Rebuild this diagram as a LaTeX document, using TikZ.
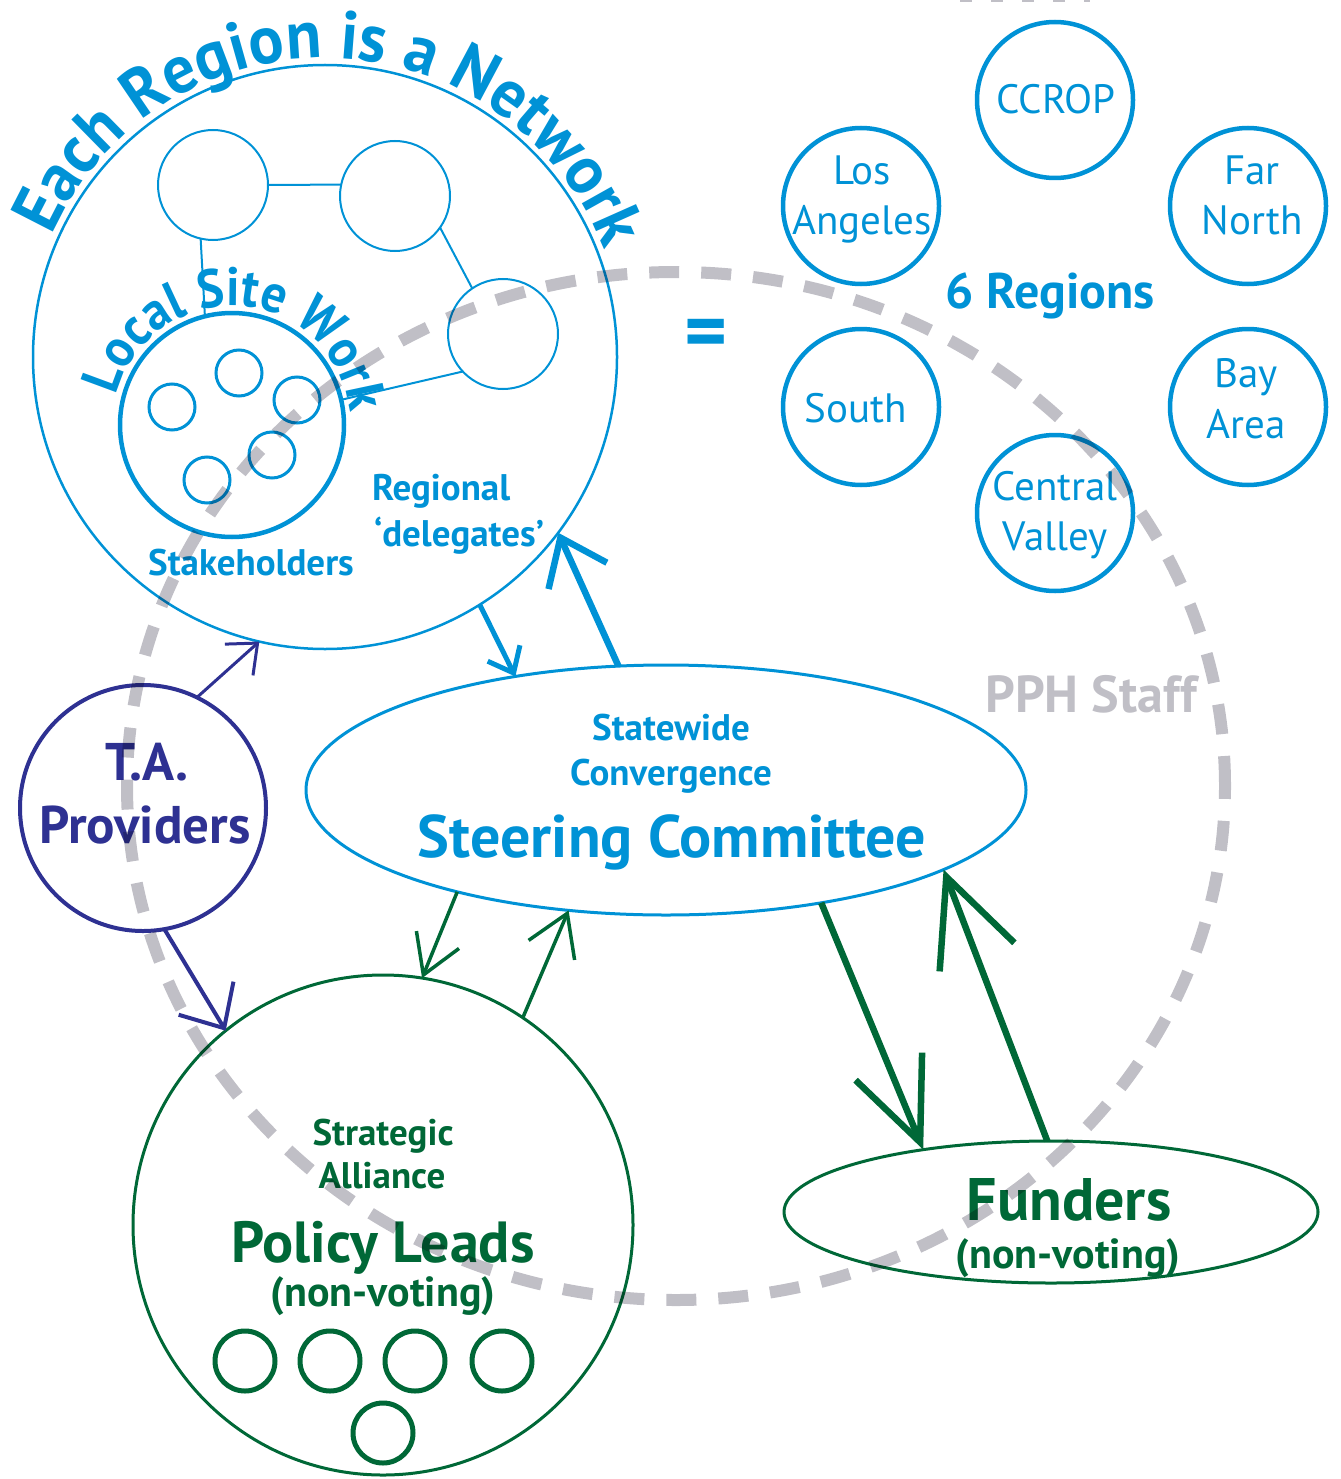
\documentclass[tikz,border=0pt]{standalone}
\usepackage{fontspec}
\setmainfont{PT Sans}
\newfontfamily\condbold{PT Sans Bold}[FakeStretch=0.92]
\newfontfamily\titlebold{PT Sans Bold}[FakeStretch=0.96]
\usetikzlibrary{arrows.meta,shapes.geometric,decorations.text}
\definecolor{rblue}{RGB}{0,146,214}
\definecolor{tapurple}{RGB}{46,49,146}
\definecolor{pgreen}{RGB}{0,104,55}
\definecolor{pphgray}{RGB}{192,191,198}
\newcommand{\fsz}[1]{\fontsize{#1}{#1}\selectfont}
\begin{document}
\begin{tikzpicture}[x=1pt,y=1pt,
  ring/.style={circle, draw, inner sep=0pt, outer sep=0pt},
  oval/.style={ellipse, draw, inner sep=0pt, outer sep=0pt},
  txt/.style={inner sep=0pt, outer sep=0pt, anchor=base},
  regc/.style={ring, draw=rblue, line width=4.5pt, minimum size=156pt},
  regtxt/.style={txt, text=rblue, font=\fsz{41}},
  stakec/.style={ring, draw=rblue, line width=3pt, minimum size=46pt},
  netc/.style={ring, draw=rblue, line width=2pt, minimum size=110pt},
  leadc/.style={ring, draw=pgreen, line width=5pt, minimum size=60pt},
  pphdash/.style={draw=pphgray, line width=12pt, dash pattern=on 30pt off 22pt},
  barb/.style 2 args={-{Straight Barb[length=#1pt, width=#2pt]}}
]
\useasboundingbox (0,0) rectangle (1340,-1479);

% ---- region network
\node[ring, draw=rblue, line width=2.5pt, minimum size=584pt] (region) at (325,-357) {};
\node[netc] (netA) at (213,-185) {};
\node[netc] (netB) at (395,-196) {};
\node[netc] (netC) at (503,-334) {};
\node[ring, draw=rblue, line width=4.5pt, minimum size=224pt] (local) at (232,-425) {};
\node[stakec] (s1) at (172,-407) {};
\node[stakec] (s2) at (239,-373) {};
\node[stakec] (s3) at (297,-400) {};
\node[stakec] (s4) at (272,-455) {};
\node[stakec] (s5) at (207,-480) {};
\draw[rblue, line width=2pt] (netA.east) -- (netB.168);
\draw[rblue, line width=2pt] (netB.-35) -- (netC.124.5);
\draw[rblue, line width=2pt] (netA.-103) -- (local.104);
\draw[rblue, line width=2pt] (netC.223) -- (local.13);

\path[decorate, decoration={text along path, text align=center,
  text={|\fsz{68}\titlebold\color{rblue}|Each Region is a Network}}]
  (325,-357) ++(168.5:299) arc[start angle=168.5, end angle=8.5, radius=299];
\path[decorate, decoration={text along path, text align=center,
  text={|\fsz{54}\condbold\color{rblue}|Local Site Work}}]
  (232,-425) ++(162:119) arc[start angle=162, end angle=10, radius=119];

\node[txt, text=rblue, font=\fsz{37}\bfseries] (stk) at (251,-575) {Stakeholders};
\node[txt, anchor=base west, text=rblue, font=\fsz{37}\bfseries] (reg1) at (372,-500) {Regional};
\node[txt, anchor=base west, text=rblue, font=\fsz{37}\bfseries] (reg2) at (374,-546) {‘delegates’};

\node[txt, text=rblue, font=\fsz{82}\bfseries] (eq) at (706,-359) {=};

% ---- six regions
\node[regc] (ccrop) at (1055,-100) {};
\node[regc] (la) at (861,-206) {};
\node[regc] (far) at (1248,-206) {};
\node[regc] (south) at (861,-407) {};
\node[regc] (bay) at (1248,-407) {};
\node[regc] (cv) at (1055,-513) {};
\node[regtxt] (t1) at (1056,-114) {CCROP};
\node[regtxt] (t2) at (862,-185) {Los};
\node[regtxt] (t3) at (862,-235) {Angeles};
\node[regtxt] (t4) at (1252,-185) {Far};
\node[regtxt] (t5) at (1252,-235) {North};
\node[regtxt] (t6) at (856,-422) {South};
\node[regtxt] (t7) at (1246,-387) {Bay};
\node[regtxt] (t8) at (1246,-438) {Area};
\node[regtxt] (t9) at (1055,-500) {Central};
\node[regtxt] (t10) at (1055,-550) {Valley};
\node[txt, text=rblue, font=\fsz{50}\bfseries] (six) at (1050,-308) {6 Regions};

% ---- other bodies
\node[oval, draw=rblue, line width=3pt, minimum width=720pt, minimum height=250pt] (steer) at (666,-790) {};
\node[txt, text=rblue, font=\fsz{37}\bfseries] (sw) at (671,-740) {Statewide};
\node[txt, text=rblue, font=\fsz{37}\bfseries] (cvg) at (671,-785) {Convergence};
\node[txt, text=rblue, font=\fsz{60}\bfseries] (sc) at (672,-857) {Steering Committee};

\node[ring, draw=tapurple, line width=4pt, minimum size=246pt] (ta) at (143,-808) {};
\node[txt, text=tapurple, font=\fsz{53}\bfseries] (ta1) at (147,-780) {T.A.};
\node[txt, text=tapurple, font=\fsz{53}\bfseries] (ta2) at (145,-843) {Providers};

\node[ring, draw=pgreen, line width=3pt, minimum size=500pt] (policy) at (383,-1225) {};
\node[txt, text=pgreen, font=\fsz{37}\bfseries] (pl1) at (383,-1145) {Strategic};
\node[txt, text=pgreen, font=\fsz{37}\bfseries] (pl2) at (382,-1188) {Alliance};
\node[txt, text=pgreen, font=\fsz{58}\bfseries] (pl3) at (383,-1262) {Policy Leads};
\node[txt, text=pgreen, font=\fsz{42}\bfseries] (pl4) at (383,-1306) {(non-voting)};
\node[leadc] (l1) at (245,-1361) {};
\node[leadc] (l2) at (330,-1361) {};
\node[leadc] (l3) at (415,-1361) {};
\node[leadc] (l4) at (502,-1361) {};
\node[leadc] (l5) at (383,-1433) {};

\node[oval, draw=pgreen, line width=3pt, minimum width=534pt, minimum height=142pt] (fund) at (1051,-1212) {};
\node[txt, text=pgreen, font=\fsz{60}\bfseries] (f1) at (1069,-1220) {Funders};
\node[txt, text=pgreen, font=\fsz{42}\bfseries] (f2) at (1068,-1268) {(non-voting)};

\node[txt, text=pphgray, font=\fsz{52}\bfseries] (pph) at (1091,-712) {PPH Staff};

% ---- connectors
\draw[rblue, line width=5pt, barb={22}{36}] (region.-58.5) -- (steer.143.5);
\draw[rblue, line width=6.5pt, barb={42}{64}] (steer.111) -- (region.-37.8);
\draw[tapurple, line width=3pt, barb={25}{42}] (ta.64) -- (region.257.2);
\draw[tapurple, line width=4pt, barb={35}{64}] (ta.-80.7) -- (policy.129.5);
\draw[pgreen, line width=3.5pt, barb={38}{46}] (steer.206) -- (policy.81);
\draw[pgreen, line width=3.5pt, barb={40}{50}] (policy.56.6) -- (steer.231.5);
\draw[pgreen, line width=6.5pt, barb={82}{72}] (steer.-36.7) -- (fund.154);
\draw[pgreen, line width=6.5pt, barb={86}{80}] (fund.93) -- (steer.-16.6);

% ---- PPH staff dashed ring
\begin{scope}[blend mode=multiply]
\draw[pphdash] (676,-786) ellipse [x radius=549, y radius=514];
\draw[draw=pphgray, line width=4pt, dash pattern=on 12pt off 19pt] (960,0) -- (1090,0);
\end{scope}
\end{tikzpicture}
\end{document}
